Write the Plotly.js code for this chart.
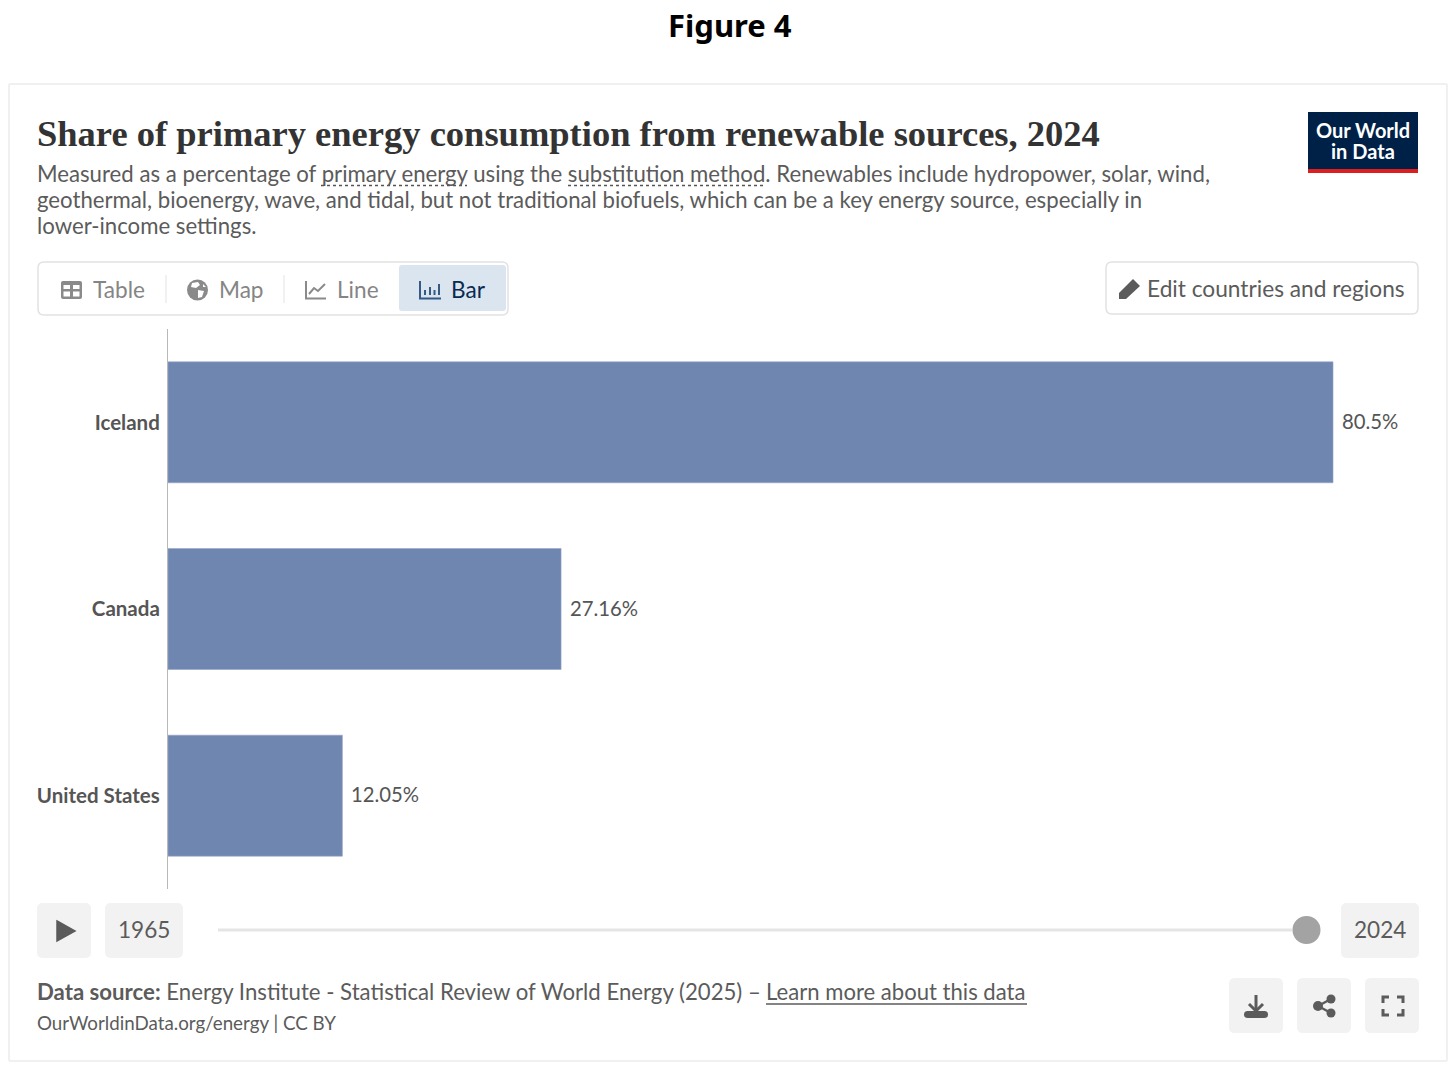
<!DOCTYPE html>
<html><head><meta charset="utf-8">
<script src="https://cdn.plot.ly/plotly-3.0.1.min.js"></script>
<style>html,body{margin:0;padding:0;background:#fff;overflow:hidden}</style>
</head><body><div id="chart" style="width:1456px;height:1074px"></div>
<script>
const categories = ["Iceland", "Canada", "United States"];
const shareValues = [80.5, 27.16, 12.05];
const valueLabels = ["80.5%", "27.16%", "12.05%"];
const figureTitle = "Figure 4";
const chartTitle = "Share of primary energy consumption from renewable sources, 2024";
const subtitleLines = [
  "Measured as a percentage of primary energy using the substitution method. Renewables include hydropower, solar, wind,",
  "geothermal, bioenergy, wave, and tidal, but not traditional biofuels, which can be a key energy source, especially in",
  "lower-income settings."
];
const startYear = "1965", endYear = "2024";

const W = 1456, H = 1074, L = 168, R = 1419, T = 329, B = 889;
const LATO = "Lato, sans-serif", GREY = "#5b5b5b";
const px = x => (x - L) / (R - L);
const py = y => (B - y) / (B - T);
const shapes = [], annotations = [];

function P(d) { // path given in page pixels -> paper coordinates
  let isX = true;
  return d.replace(/-?\d+(\.\d+)?/g, m => { const v = isX ? px(+m) : py(+m); isX = !isX; return v.toFixed(6); });
}
function path(d, fill, line, lw, layer) {
  shapes.push({type:"path", xref:"paper", yref:"paper", path:P(d), fillcolor:fill||"rgba(0,0,0,0)",
    line:{color:line||"rgba(0,0,0,0)", width:lw||0}, layer:layer||"above"});
}
function rrect(x0,y0,x1,y1,r,fill,line,lw,layer){
  path(`M${x0+r} ${y0} L${x1-r} ${y0} Q${x1} ${y0} ${x1} ${y0+r} L${x1} ${y1-r} Q${x1} ${y1} ${x1-r} ${y1} L${x0+r} ${y1} Q${x0} ${y1} ${x0} ${y1-r} L${x0} ${y0+r} Q${x0} ${y0} ${x0+r} ${y0} Z`,fill,line,lw,layer);
}
function seg(x0,y0,x1,y1,color,w,dash){
  shapes.push({type:"line",xref:"paper",yref:"paper",x0:px(x0),x1:px(x1),y0:py(y0),y1:py(y1),line:{color,width:w,dash:dash||"solid"}});
}
function circ(cx,cy,r,fill,line,lw){
  shapes.push({type:"circle",xref:"paper",yref:"paper",x0:px(cx-r),x1:px(cx+r),y0:py(cy+r),y1:py(cy-r),fillcolor:fill,line:{color:line||"rgba(0,0,0,0)",width:lw||0}});
}
function txt(x,y,text,size,color,family,anchor){
  annotations.push({xref:"paper",yref:"paper",x:px(x),y:py(y),text,showarrow:false,xanchor:anchor||"left",yanchor:"middle",
    font:{size,color,family},borderpad:0,borderwidth:0});
}

// card (behind the bars)
rrect(9,84,1447,1061,1,"#ffffff","#ececec",1.5,"below");

// heading
txt(730,24.5,"<b>"+figureTitle+"</b>",31,"#000000","'Noto Sans', sans-serif","center");
txt(36.5,134,"<b>"+chartTitle+"</b>",36.5,"#333333","'Liberation Serif', serif");
subtitleLines.forEach((l,i)=>txt(37,[173,199.6,225.5][i],l,22.2,GREY,LATO));
seg(321,185.5,467,185.5,"#555555",1.5,"dot");
seg(568,185.5,765,185.5,"#555555",1.5,"dot");

// logo
path("M1308 112 L1418 112 L1418 173 L1308 173 Z","#002147");
path("M1308 169 L1418 169 L1418 173 L1308 173 Z","#dc1e1e");
txt(1363,130,"<b>Our World</b>",20,"#ffffff",LATO,"center");
txt(1363,151,"<b>in Data</b>",20,"#ffffff",LATO,"center");

// tab bar
rrect(38,262,508,315,6,"#ffffff","#e2e2e2",1.5);
rrect(399,265,506,311,3,"#dbe5f0");
seg(166,275,166,303,"#ececec",1.5);
seg(284,275,284,303,"#ececec",1.5);
// table icon
rrect(61,281,82,299,2,"#8a8a8a");
path("M63.5 285 L70 285 L70 289 L63.5 289 Z M73 285 L79.5 285 L79.5 289 L73 289 Z M63.5 291.5 L70 291.5 L70 296.5 L63.5 296.5 Z M73 291.5 L79.5 291.5 L79.5 296.5 L73 296.5 Z","#ffffff");
txt(93,289,"Table",22.6,"#858585",LATO);
// globe icon
circ(197.5,290,10.5,"#8a8a8a");
path("M192 283 L198 282 L200 285 L196 288 L191 287 Z M198 290 L204 291 L202 297 L198 298 Z M203 284 L206 287 L203 287 Z","#ffffff");
txt(219,289,"Map",22.6,"#858585",LATO);
// line icon
path("M306 281 L306 298.5 L326 298.5",null,"#8a8a8a",2);
path("M309 294 L314 288 L318 291 L325 284",null,"#8a8a8a",2);
txt(337,289,"Line",22.6,"#858585",LATO);
// bar icon
path("M420 281 L420 298.5 L441 298.5",null,"#335b85",2);
seg(425,290,425,295,"#335b85",2);
seg(430,287,430,295,"#335b85",2);
seg(434.5,290,434.5,295,"#335b85",2);
seg(439,284,439,295,"#335b85",2);
txt(451,289,"Bar",22.6,"#0a2a50",LATO);

// edit button
rrect(1106,262,1418,314,6,"#ffffff","#e2e2e2",1.5);
path("M1133 279 L1140 286 L1126 299 L1119 299 L1119 293 Z","#5b5b5b");
txt(1147,288,"Edit countries and regions",22.7,GREY,LATO);

// timeline
rrect(37,903,91,958,6,"#f2f2f2");
path("M57 921 L75 931 L57 941 Z","#5b5b5b","#5b5b5b",1.5);
rrect(105,903,183,958,6,"#f2f2f2");
txt(144,929.5,startYear,22.6,GREY,LATO,"center");
seg(218,930,1292,930,"#e5e5e5",3);
circ(1306.5,930,14,"#a3a3a3");
rrect(1341,903,1419,958,6,"#f2f2f2");
txt(1380,929.5,endYear,22.6,GREY,LATO,"center");

// footer
txt(37,991.5,"<b>Data source:</b> Energy Institute - Statistical Review of World Energy (2025) –",22.2,GREY,LATO);
txt(766,991.5,"Learn more about this data",22.1,GREY,LATO);
seg(766,1004,1027,1004,GREY,1.5);
txt(37,1022,"OurWorldinData.org/energy | CC BY",18.75,GREY,LATO);

// action buttons
rrect(1229,978,1283,1033,6,"#f2f2f2");
seg(1256,995,1256,1010,GREY,3);
path("M1249 1004 L1256 1011 L1263 1004",null,GREY,3);
rrect(1244,1011,1268,1018,3.5,GREY);
rrect(1297,978,1351,1033,6,"#f2f2f2");
seg(1318,1006,1331,999,GREY,2.5);
seg(1318,1006,1331,1013,GREY,2.5);
circ(1318,1006,5,GREY);circ(1331,999,4.5,GREY);circ(1331,1013,4.5,GREY);
rrect(1365,978,1419,1033,6,"#f2f2f2");
path("M1383 1003 L1383 997 L1389 997 M1397 997 L1403 997 L1403 1003 M1403 1009 L1403 1015 L1397 1015 M1389 1015 L1383 1015 L1383 1009",null,GREY,3);

// value labels, placed by the data scales
categories.forEach((c,i)=>annotations.push({xref:"x",yref:"y",x:shareValues[i],y:c,text:valueLabels[i],showarrow:false,
  xanchor:"left",yanchor:"middle",xshift:7,yshift:1.5,font:{size:20.3,color:"#555555",family:LATO}}));

Plotly.newPlot("chart",[{
  type:"bar",orientation:"h",x:shareValues,y:categories,
  marker:{color:"#6f86b0",line:{width:0.6,color:"#93a6c8"}},hoverinfo:"x+y"
}],{
  width:W,height:H,autosize:false,
  margin:{l:L,r:W-R,t:T,b:H-B,pad:0},
  paper_bgcolor:"#ffffff",plot_bgcolor:"rgba(0,0,0,0)",
  showlegend:false,bargap:0.352,
  xaxis:{range:[0,86.44],visible:false,showgrid:false,zeroline:false},
  yaxis:{type:"category",categoryorder:"array",categoryarray:categories,range:[2.5,-0.5],
    showgrid:false,zeroline:false,showline:true,linecolor:"#b8b8b8",linewidth:1.2,ticks:"",
    ticklabelstandoff:3,tickfont:{family:LATO,size:20.5,color:"#555555",weight:700}},
  shapes,annotations
},{displayModeBar:false,responsive:false});
</script></body></html>
